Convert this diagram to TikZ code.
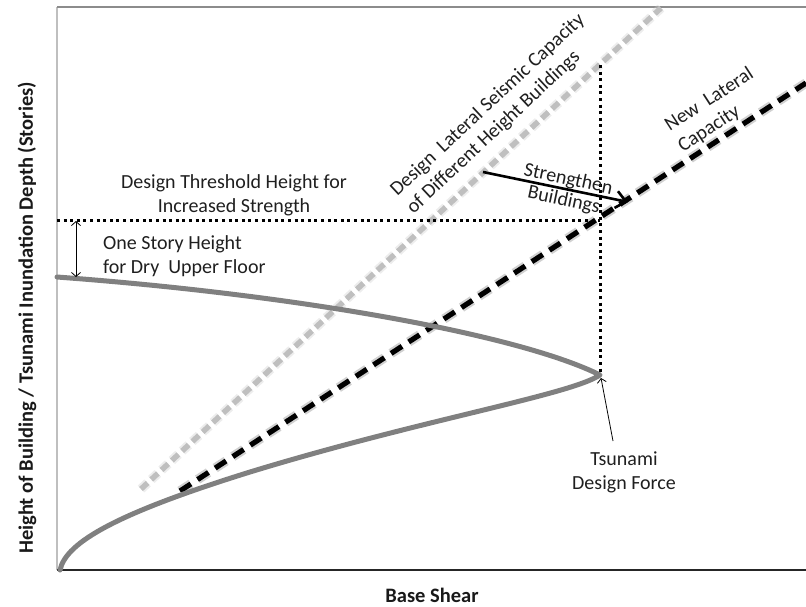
\documentclass[tikz,border=0pt]{standalone}
\usepackage{fontspec}
\setmainfont{Carlito}
\usetikzlibrary{arrows.meta}
\begin{document}
\begin{tikzpicture}[x=1pt,y=-1pt,
  lbl/.style={font=\fontsize{20}{24}\selectfont, align=center, inner sep=0pt, text=black!88},
  axislbl/.style={font=\bfseries\fontsize{20.5}{24}\selectfont, inner sep=0pt, text=black!90},
  dotline/.style={line width=3pt, dash pattern=on 3pt off 3.6pt},
  grayglow/.style={line width=9.5pt, draw=gray!40, opacity=0.35, dash pattern=on 9pt off 5pt},
  graycap/.style={line width=5.5pt, draw=black!25, dash pattern=on 9pt off 5pt},
  blackglow/.style={line width=9.5pt, draw=black, opacity=0.18, dash pattern=on 13pt off 8pt},
  blackcap/.style={line width=5.2pt, draw=black, dash pattern=on 13pt off 8pt},
  forcecurve/.style={line width=5pt, draw=black!50, line join=round, line cap=round},
  thinarrow/.style={line width=0.8pt, {Straight Barb[length=4pt,width=9pt]}-{Straight Barb[length=4pt,width=9pt]}},
  boldarrow/.style={line width=2.6pt, -{Straight Barb[length=10pt,width=17pt,line width=2.6pt]}}
]
\useasboundingbox (0,0) rectangle (806,606);

% plot frame
\coordinate (origin) at (57,570);
\coordinate (topleft) at (57,7);
\coordinate (topright) at (806,7);
\coordinate (botright) at (806,570);
\draw[line width=1.2pt, black!25] (origin) -- (topleft);
\draw[line width=1.4pt, black!45] (topleft) -- (topright);
\draw[line width=1.6pt, black!85] (origin) -- (botright);

% design seismic capacity (grey) and new capacity (black)
\coordinate (gs) at (141,489);
\coordinate (ge) at (661,8);
\coordinate (bs) at (180,491);
\coordinate (be) at (806,83);
\draw[grayglow] (gs) -- (ge);
\draw[graycap] (gs) -- (ge);
\draw[blackglow] (bs) -- (be);
\draw[blackcap] (bs) -- (be);

% tsunami force profile
\coordinate (ctop) at (57,277);
\coordinate (tip) at (600,375);
\coordinate (cmid) at (250,472);
\coordinate (cbot) at (60,570);
\draw[forcecurve] (ctop) .. controls (300,295) and (520,335) .. (tip)
  .. controls (570,395) and (420,420) .. (cmid)
  .. controls (118,513) and (66,542) .. (cbot);

% threshold guide lines
\coordinate (hleft) at (57,220);
\coordinate (cross) at (600,220);
\coordinate (vtop) at (600,65);
\draw[dotline] (hleft) -- (cross);
\draw[dotline] (vtop) -- (tip);

% one story height
\coordinate (sh1) at (76,221);
\coordinate (sh2) at (76,277);
\draw[thinarrow] (sh1) -- (sh2);

% labels
\node[lbl] (thr) at (234,195) {Design Threshold Height for\\Increased Strength};
\node[lbl, align=left, anchor=west] (story) at (103,256) {One Story Height\\for Dry~ Upper Floor};
\node[lbl] (tdf) at (624,472) {Tsunami\\Design Force};
\node[lbl, align=left, rotate=43] (dlsc) at (496,114) {Design~ Lateral Seismic Capacity\\of Different Height Buildings};
\node[lbl, align=left, rotate=33] (nlc) at (716,110) {New~ Lateral\\Capacity};
\node[lbl, font=\fontsize{20}{21}\selectfont, rotate=-12] (sb) at (566,190) {Strengthen\\Buildings};
\node[axislbl, anchor=base] (xlab) at (432,602) {Base Shear};
\node[axislbl, rotate=90] (ylab) at (27,318) {Height of Building / Tsunami Inundation Depth (Stories)};

% arrows
\coordinate (sbs) at (483,172);
\coordinate (sbe) at (628,202);
\draw[boldarrow] (sbs) -- (sbe);
\coordinate (tdfa) at (613,441);
\coordinate (tipa) at (601,378);
\draw[line width=0.8pt, -{Straight Barb[length=4pt,width=9pt]}] (tdfa) -- (tipa);
\end{tikzpicture}
\end{document}
